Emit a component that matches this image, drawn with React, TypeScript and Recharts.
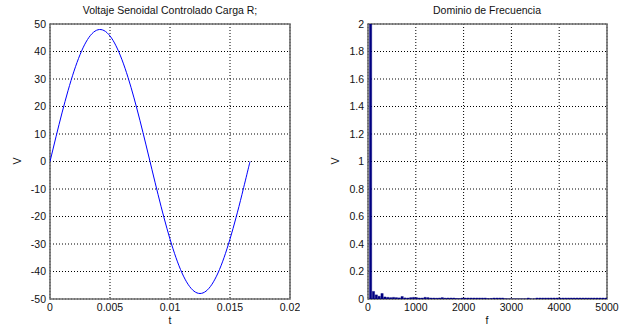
import React from "react";
import {
  LineChart,
  Line,
  BarChart,
  Bar,
  XAxis,
  YAxis,
  CartesianGrid,
  ReferenceArea,
} from "recharts";

// Time-domain samples of the controlled sine voltage (t in s, V in volts)
const timeValues = [
  0, 0.0005, 0.001, 0.0015, 0.002, 0.0025, 0.003, 0.0035, 0.004, 0.0045,
  0.005, 0.0055, 0.006, 0.0065, 0.007, 0.0075, 0.008, 0.0085, 0.009, 0.0095,
  0.01, 0.0105, 0.011, 0.0115, 0.012, 0.0125, 0.013, 0.0135, 0.014, 0.0145,
  0.015, 0.0155, 0.016, 0.0165, 0.01667,
];
const voltageValues = [
  0, 9.0, 17.67, 25.72, 32.86, 38.83, 43.43, 46.49, 47.9, 47.62,
  45.65, 42.06, 36.98, 30.59, 23.13, 14.83, 6.02, -3.01, -11.94, -20.44,
  -28.21, -34.99, -40.53, -44.63, -47.15, -48.0, -47.15, -44.63, -40.53, -34.99,
  -28.21, -20.44, -11.94, -3.01, 0,
];

// Spectrum: one bin every 60 Hz
const freqStep = 60;
const spectrumValues = [
  0, 24, 0.055, 0.03, 0.02, 0.04, 0.015, 0.012, 0.01, 0.012,
  0.01, 0.008, 0.018, 0.008, 0.007, 0.01, 0.012, 0.01, 0.007, 0.007,
  0.012, 0.01, 0.007, 0.007, 0.006, 0.007, 0.01, 0.006, 0.007, 0.007,
  0.007, 0.004, 0.003, 0.007, 0.007, 0.007, 0.007, 0.007, 0.007, 0.007,
  0.007, 0.007, 0.003, 0.004, 0.007, 0.007, 0.007, 0.007, 0.002, 0.001,
  0.001, 0.001, 0.001, 0.001, 0.001, 0.001, 0.007, 0.001, 0.001, 0.007,
  0.007, 0.007, 0.007, 0.007, 0.007, 0.007, 0.007, 0.007, 0.007, 0.007,
  0.007, 0.007, 0.007, 0.007, 0.007, 0.007, 0.007, 0.007, 0.007, 0.007,
  0.007, 0.007, 0.007, 0.007,
];

const timeTicks = [0, 0.005, 0.01, 0.015, 0.02];
const voltTicks = [-50, -40, -30, -20, -10, 0, 10, 20, 30, 40, 50];
const freqTicks = [0, 1000, 2000, 3000, 4000, 5000];
const ampTicks = [0, 0.2, 0.4, 0.6, 0.8, 1, 1.2, 1.4, 1.6, 1.8, 2];

const timeData = timeValues.map((t, i) => ({ t, v: voltageValues[i] }));
const freqData = spectrumValues.map((a, i) => ({ f: i * freqStep, a }));

const FONT = "'Liberation Sans', Arial, sans-serif";
const tickStyle = { fontSize: 10.5, fill: "#111", fontFamily: FONT };
const gridProps = { stroke: "#000", strokeDasharray: "1 2", strokeWidth: 1 };
const frameColor = "#6e6e6e";

const textBase: React.CSSProperties = {
  position: "absolute",
  fontFamily: FONT,
  fontSize: 10.5,
  color: "#111",
  whiteSpace: "nowrap",
  lineHeight: "12px",
};

export default function App() {
  return (
    <div
      style={{
        position: "absolute",
        left: 0,
        top: 0,
        width: 629,
        height: 329,
        background: "#fff",
        overflow: "hidden",
      }}
    >
      <div style={{ position: "absolute", left: 0, top: 0 }}>
        <LineChart
          width={300}
          height={329}
          data={timeData}
          margin={{ top: 24, right: 10, bottom: 0, left: 0 }}
        >
          <CartesianGrid {...gridProps} />
          <XAxis
            dataKey="t"
            type="number"
            domain={[0, 0.02]}
            ticks={timeTicks}
            height={30}
            tick={tickStyle}
            tickLine={false}
            tickSize={3}
            tickMargin={2}
            axisLine={false}
            allowDataOverflow
          />
          <YAxis
            type="number"
            domain={[-50, 50]}
            ticks={voltTicks}
            width={50}
            tick={tickStyle}
            tickLine={false}
            tickSize={2}
            tickMargin={2}
            axisLine={false}
            allowDataOverflow
          />
          <ReferenceArea
            x1={0}
            x2={0.02}
            y1={-50}
            y2={50}
            fill="none"
            stroke={frameColor}
            strokeWidth={1.6}
            fillOpacity={0}
          />
          <Line
            type="natural"
            dataKey="v"
            stroke="#0000ff"
            strokeWidth={1}
            dot={false}
            isAnimationActive={false}
          />
        </LineChart>
      </div>

      <div style={{ position: "absolute", left: 310, top: 0 }}>
        <BarChart
          width={319}
          height={329}
          data={freqData}
          margin={{ top: 24, right: 22, bottom: 0, left: 0 }}
          barGap={0}
        >
          <CartesianGrid {...gridProps} />
          <XAxis
            dataKey="f"
            type="number"
            domain={[0, 5000]}
            ticks={freqTicks}
            height={30}
            tick={tickStyle}
            tickLine={false}
            tickSize={3}
            tickMargin={2}
            axisLine={false}
            allowDataOverflow
          />
          <YAxis
            type="number"
            domain={[0, 2]}
            ticks={ampTicks}
            width={58}
            tick={tickStyle}
            tickLine={false}
            tickSize={2}
            tickMargin={2}
            axisLine={false}
            allowDataOverflow
          />
          <Bar
            dataKey="a"
            fill="#000080"
            stroke="#000080"
            strokeWidth={0.4}
            barSize={2.3}
            isAnimationActive={false}
          />
          <ReferenceArea
            x1={0}
            x2={5000}
            y1={0}
            y2={2}
            fill="none"
            stroke={frameColor}
            strokeWidth={1.6}
            fillOpacity={0}
          />
        </BarChart>
      </div>

      <div style={{ ...textBase, left: 170, top: 4, transform: "translateX(-50%)" }}>
        Voltaje Senoidal Controlado Carga R;
      </div>
      <div style={{ ...textBase, left: 487, top: 4, transform: "translateX(-50%)" }}>
        Dominio de Frecuencia
      </div>
      <div style={{ ...textBase, left: 170, top: 314, transform: "translateX(-50%)" }}>
        t
      </div>
      <div style={{ ...textBase, left: 487, top: 314, transform: "translateX(-50%)" }}>
        f
      </div>
      <div
        style={{
          ...textBase,
          left: 17,
          top: 161,
          transform: "translate(-50%, -50%) rotate(-90deg)",
        }}
      >
        V
      </div>
      <div
        style={{
          ...textBase,
          left: 335,
          top: 161,
          transform: "translate(-50%, -50%) rotate(-90deg)",
        }}
      >
        V
      </div>
    </div>
  );
}
